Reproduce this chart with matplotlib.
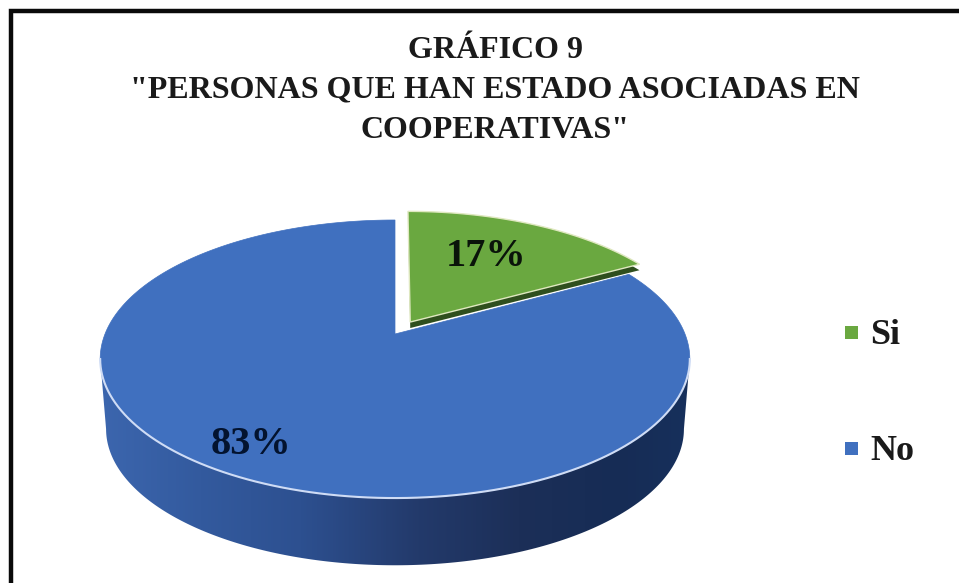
import numpy as np
import matplotlib
matplotlib.use("Agg")
import matplotlib.pyplot as plt
from matplotlib.colors import LinearSegmentedColormap
from matplotlib.patches import Polygon, Rectangle
from matplotlib.transforms import Affine2D

categories = ["Si", "No"]
values = [17, 83]
explode = [0.105, 0]
title_lines = ["GRÁFICO 9", "\"PERSONAS QUE HAN ESTADO ASOCIADAS EN", "COOPERATIVAS\""]

GREEN = "#6aa840"
BLUE = "#4070bf"
SERIF = "Liberation Serif"

# perspective of the pie top, in pixels of the picture
CX, CY, KX = 395, 334, 290
PA, PC = -74.4, 0.18
DEPTH = 70
WALL_SCALE = 0.98


def project(uv):
	u, v = uv[:, 0], uv[:, 1]
	d = 1 + PC * v
	return np.column_stack((CX + KX * u / d, (PA * v + CY) / d))


def wall_bottom(xy):
	# the lower rim is a bit smaller than the top one
	mid_y = 359
	return np.column_stack((CX + (xy[:, 0] - CX) * WALL_SCALE, mid_y + (xy[:, 1] - mid_y) * WALL_SCALE + DEPTH))


fig = plt.figure(figsize=(9.59, 5.83), dpi=100)
ax = fig.add_axes([0, 0, 1, 1])

wedges, _ = ax.pie(values, explode=explode, startangle=90, counterclock=False, colors=[GREEN, BLUE])
# flatten at a large scale, otherwise the arcs come out coarse
top_polys = [w.get_path().to_polygons(transform=Affine2D().scale(2000), closed_only=False)[0] / 2000 for w in wedges]
for w in wedges:
	w.remove()
ax.set_aspect("auto")

# side wall, from the widest point round the front
t0 = np.arcsin(PC)
theta = np.linspace(np.pi + t0, 2 * np.pi - t0, 200)
front = project(np.column_stack((np.cos(theta), np.sin(theta))))
wall_xy = np.vstack((front, wall_bottom(front)[::-1]))
wall = Polygon(wall_xy, closed=True, facecolor="none", edgecolor="none", transform=ax.transData)
ax.add_patch(wall)
wall_cmap = LinearSegmentedColormap.from_list("wall", [
	(0.0, "#3c66ae"), (0.17, "#335a9e"), (0.34, "#2d5090"), (0.54, "#233a6b"),
	(0.71, "#1c2f58"), (0.88, "#162c55"), (1.0, "#17305c")])
im = ax.imshow(np.linspace(0, 1, 256).reshape(1, -1), extent=(100, 690, 583, 300), aspect="auto", cmap=wall_cmap, zorder=1)
im.set_clip_path(wall)

# blue slice
ax.add_patch(Polygon(project(top_polys[1]), closed=True, facecolor=BLUE, edgecolor=BLUE, lw=0.5, zorder=2))
ax.plot(front[:, 0], front[:, 1], color="#cfdcf5", lw=1.5, zorder=3)

# green slice with its dark cut face
green_xy = project(top_polys[0])
ax.add_patch(Polygon(green_xy + [0, 6], closed=True, facecolor="#2f4f1e", edgecolor="none", zorder=4))
ax.add_patch(Polygon(green_xy, closed=True, facecolor=GREEN, edgecolor="#dfe8c0", lw=1.0, zorder=5))

ax.text(486, 256, f"{values[0]}%", family=SERIF, weight="bold", fontsize=29, ha="center", va="center", color="#0a140a", zorder=6)
ax.text(251, 444, f"{values[1]}%", family=SERIF, weight="bold", fontsize=29, ha="center", va="center", color="#03132f", zorder=6)

for line, y in zip(title_lines, [51, 90, 130]):
	ax.text(495, y, line, family=SERIF, weight="bold", fontsize=23, ha="center", va="center", color="#1a1a1a")

# legend
for cat, col, y in zip(categories, [GREEN, BLUE], [332, 448]):
	ax.add_patch(Rectangle((845, y - 6.5), 13, 13, facecolor=col, edgecolor="none"))
	ax.text(870, y + 3, cat, family=SERIF, weight="bold", fontsize=26, ha="left", va="center", color="#1a1a1a")

# outer frame, the right side is cut off by the picture
ax.plot([11, 11, 959], [583, 11, 11], color="#0a0a0a", lw=3.2, solid_joinstyle="miter", zorder=7)

ax.set_xlim(0, 959)
ax.set_ylim(583, 0)
ax.axis("off")
fig.savefig("out.png", dpi=100)
